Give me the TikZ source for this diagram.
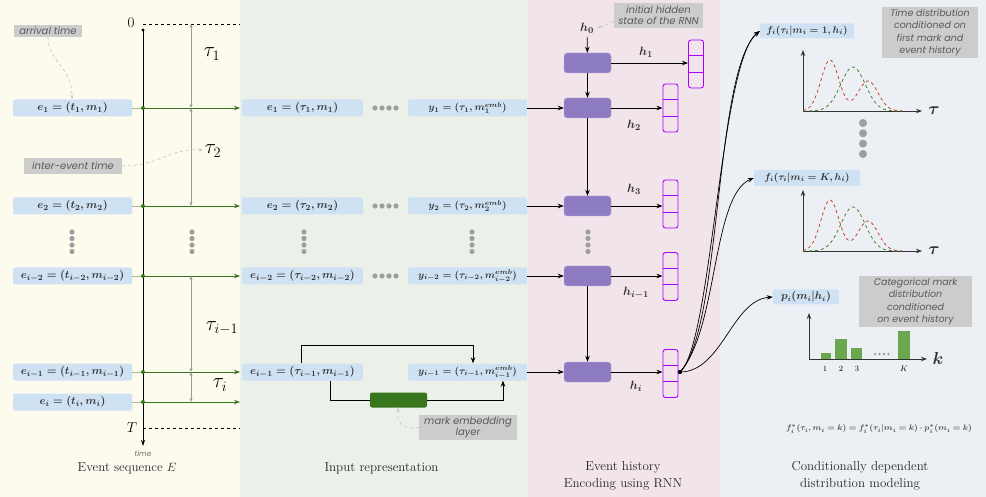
\documentclass[tikz,border=0pt]{standalone}
\usepackage{fontspec}
\usepackage{amsmath,bm}
\usetikzlibrary{arrows.meta,calc}
\newfontfamily\annfont{Poppins}
\definecolor{bgA}{HTML}{FDFAEE}
\definecolor{bgB}{HTML}{EBF0E8}
\definecolor{bgC}{HTML}{F1E4EB}
\definecolor{bgD}{HTML}{ECF0F5}
\definecolor{boxblue}{HTML}{CFE2F3}
\definecolor{txt}{HTML}{333333}
\definecolor{annbg}{HTML}{CCCCCC}
\definecolor{anntxt}{HTML}{595959}
\definecolor{evgreen}{HTML}{38761D}
\definecolor{cellpurple}{HTML}{8E7CC3}
\definecolor{vecpurple}{HTML}{AA00FF}
\definecolor{bargreen}{HTML}{6AA84F}
\definecolor{redc}{HTML}{CC4125}
\definecolor{dotgray}{HTML}{9E9E9E}
\begin{document}
\begin{tikzpicture}[x=1pt,y=-1pt,
  evbox/.style={fill=boxblue, rounded corners=2pt, inner sep=0pt, minimum height=17pt, text=txt, font=\fontsize{11}{13}\selectfont\boldmath},
  ybox/.style={evbox, font=\fontsize{10.2}{12}\selectfont\boldmath},
  fbox/.style={fill=boxblue, rounded corners=2pt, inner sep=0pt, minimum height=15pt, text=txt, font=\fontsize{9.8}{11}\selectfont\boldmath},
  ann/.style={fill=annbg, text=anntxt, font=\annfont\itshape\fontsize{10}{11}\selectfont, inner sep=0pt, align=center},
  cell/.style={fill=cellpurple, draw=cellpurple!60!white, rounded corners=3pt, minimum width=47pt, minimum height=20pt, inner sep=0pt},
  vec/.style={draw=vecpurple, line width=0.9pt, rounded corners=2.5pt, minimum width=15pt, minimum height=48pt, inner sep=0pt},
  arr/.style={-{Stealth[length=6pt,width=4.5pt]}, line width=0.7pt},
  garr/.style={evgreen, line width=0.9pt, -{Stealth[length=6pt,width=4.5pt]}},
  tauarr/.style={black!40, line width=0.6pt, {Stealth[length=4pt,width=3pt]}-{Stealth[length=4pt,width=3pt]}},
  anncurve/.style={black!22, dashed, line width=0.7pt, -{Stealth[length=4pt,width=3pt]}},
  hlab/.style={font=\fontsize{12.5}{13}\selectfont\boldmath, text=txt},
  taulab/.style={font=\fontsize{19.5}{20}\selectfont},
  titlelab/.style={font=\fontsize{13}{17}\selectfont, text=black!85, align=center},
  axisarr/.style={{Stealth[length=6pt,width=4.5pt]}-{Stealth[length=6pt,width=4.5pt]}, line width=0.8pt, black!80}]
\useasboundingbox (0,0) rectangle (986,497);
% backgrounds
\fill[bgA] (0,0) rectangle (240,497);
\fill[bgB] (240,0) rectangle (528,497);
\fill[bgC] (528,0) rectangle (720,497);
\fill[bgD] (720,0) rectangle (986,497);

% ---------------- Panel 1: event sequence
\node[font=\fontsize{15}{15}\selectfont] (zero) at (131,23) {0};
\node[font=\fontsize{15}{15}\selectfont] (Tlab) at (132,428) {$T$};
\coordinate (z0) at (143,24); \coordinate (z1) at (240,24);
\coordinate (t0) at (143,428); \coordinate (t1) at (240,428);
\draw[dashed, line width=0.7pt] (z0) -- (z1);
\draw[dashed, line width=0.7pt] (t0) -- (t1);
\coordinate (ax0) at (143,30); \coordinate (axend) at (143,446);
\draw[line width=0.8pt, -{Stealth[length=6pt,width=4pt]}] (ax0) -- (axend);
\fill (ax0) circle (1.6pt);
\node[font=\annfont\itshape\fontsize{7.5}{8}\selectfont, text=black!55] (timelab) at (143,454) {time};

\node[evbox, minimum width=119pt] (ev1) at (72.5,108) {$\bm{e_1=(t_1,m_1)}$};
\node[evbox, minimum width=119pt] (ev2) at (72.5,206) {$\bm{e_2=(t_2,m_2)}$};
\node[evbox, minimum width=119pt] (ev3) at (72.5,276) {$\bm{e_{i-2}=(t_{i-2},m_{i-2})}$};
\node[evbox, minimum width=119pt] (ev4) at (72.5,372) {$\bm{e_{i-1}=(t_{i-1},m_{i-1})}$};
\node[evbox, minimum width=119pt] (ev5) at (72.5,402) {$\bm{e_{i}=(t_{i},m_{i})}$};

\foreach \n/\yy in {1/108,2/206,3/276,4/372,5/402}{
  \coordinate (a\n) at (143,\yy); \coordinate (b\n) at (240,\yy);
  \draw[black!30, line width=0.6pt] (ev\n.east) -- (a\n);
  \draw[garr] (a\n) -- (b\n);
  \fill[evgreen] (a\n) circle (2pt);
}

% tau arrows
\draw[tauarr] (191,24) -- (191,108);
\draw[tauarr] (191,108) -- (191,206);
\draw[tauarr] (191,276) -- (191,372);
\draw[tauarr] (191,372) -- (191,402);
\node[taulab] (tau1) at (212,54) {$\tau_1$};
\node[taulab] (tau2) at (213,151) {$\tau_2$};
\node[taulab] (tau3) at (222,328) {$\tau_{i-1}$};
\node[taulab] (tau4) at (220,385) {$\tau_i$};

% vertical dots
\foreach \xx in {72,192,304,472,588}{
  \foreach \yy in {232,238.5,245,251.5}{
    \fill[dotgray] (\xx,\yy) circle (2.6pt);
  }
}

% annotations panel 1
\node[ann, minimum width=68pt, minimum height=12pt] (arrt) at (48,31) {arrival time};
\draw[anncurve] (arrt.south) .. controls (48,62) and (72,66) .. (72,99);
\node[ann, minimum width=98pt, minimum height=16pt] (iet) at (73,166) {inter-event time};
\draw[anncurve] (iet.east) .. controls (160,166) and (168,148) .. (203,150);

\node[titlelab] (t1lab) at (127,468) {Event sequence $E$};

% ---------------- Panel 2: input representation
\node[evbox, minimum width=121pt] (p1) at (302.5,108) {$\bm{e_1=(\tau_1,m_1)}$};
\node[evbox, minimum width=121pt] (p2) at (302.5,206) {$\bm{e_2=(\tau_2,m_2)}$};
\node[evbox, minimum width=121pt] (p3) at (302.5,276) {$\bm{e_{i-2}=(\tau_{i-2},m_{i-2})}$};
\node[evbox, minimum width=121pt] (p4) at (302.5,372) {$\bm{e_{i-1}=(\tau_{i-1},m_{i-1})}$};

\node[ybox, minimum width=119pt] (y1) at (467.5,108) {$\bm{y_1=(\tau_1,m_1^{emb})}$};
\node[ybox, minimum width=119pt] (y2) at (467.5,206) {$\bm{y_2=(\tau_2,m_2^{emb})}$};
\node[ybox, minimum width=119pt] (y3) at (467.5,276) {$\bm{y_{i-2}=(\tau_{i-2},m_{i-2}^{emb})}$};
\node[ybox, minimum width=119pt] (y4) at (467.5,372) {$\bm{y_{i-1}=(\tau_{i-1},m_{i-1}^{emb})}$};

\foreach \yy in {108,206,276}{
  \foreach \xx in {375,382,389,396}{
    \fill[dotgray] (\xx,\yy) circle (2.6pt);
  }
}

\coordinate (q1) at (301,345); \coordinate (q2) at (473,345);
\draw[arr] (q1|-p4.north) -- (q1) -- (q2) -- (q2|-y4.north);
\node[fill=evgreen, rounded corners=2pt, minimum width=57pt, minimum height=15pt, inner sep=0pt] (emb) at (398.5,400) {};
\coordinate (u1) at (330,400); \coordinate (u2) at (503,400);
\draw[line width=0.7pt] (u1|-p4.south) -- (u1) -- (emb.west);
\draw[arr] (emb.east) -- (u2) -- (u2|-y4.south);
\node[ann, minimum width=98pt, minimum height=25pt] (mel) at (468,427.5) {mark embedding\\layer};
\draw[anncurve] (mel.west) .. controls (402,430) and (396,422) .. (emb.south);

\node[titlelab] (t2lab) at (381.5,468) {Input representation};

% ---------------- Panel 3: RNN
\node[hlab] (h0) at (587,28) {$\bm{h_0}$};
\node[ann, minimum width=89pt, minimum height=25pt] (init) at (658.5,15.5) {initial hidden\\state of the RNN};
\draw[anncurve] ([yshift=-6pt]init.west) -- (h0.east);

\node[cell] (c1) at (587.5,63) {};
\node[cell] (c2) at (587.5,108) {};
\node[cell] (c3) at (587.5,206) {};
\node[cell] (c4) at (587.5,276) {};
\node[cell] (c5) at (587.5,372) {};
\draw[arr] (h0) -- (c1);
\draw[arr] (c1) -- (c2);
\draw[arr] (c2) -- (c3);
\draw[arr] (c4) -- (c5);
\draw[arr] (y1.east) -- (c2.west);
\draw[arr] (y2.east) -- (c3.west);
\draw[arr] (y3.east) -- (c4.west);
\draw[arr] (y4.east) -- (c5.west);

\node[vec] (v1) at (696,64) {};
\node[vec] (v2) at (670.5,108) {};
\node[vec] (v3) at (670.5,204) {};
\node[vec] (v4) at (670.5,276.5) {};
\node[vec] (v5) at (670.5,373.5) {};
\foreach \v in {v1,v2,v3,v4,v5}{
  \draw[vecpurple, line width=0.9pt] ($(\v.north west)!1/3!(\v.south west)$) -- ($(\v.north east)!1/3!(\v.south east)$);
  \draw[vecpurple, line width=0.9pt] ($(\v.north west)!2/3!(\v.south west)$) -- ($(\v.north east)!2/3!(\v.south east)$);
}
\foreach \c/\v in {c1/v1,c2/v2,c3/v3,c4/v4,c5/v5}{
  \draw[arr] (\c.east) -- (\c.east -| \v.west);
}
\node[hlab] (h1) at (646,52) {$\bm{h_1}$};
\node[hlab] (h2) at (634,125) {$\bm{h_2}$};
\node[hlab] (h3) at (634,189) {$\bm{h_3}$};
\node[hlab] (h4) at (636,293) {$\bm{h_{i-1}}$};
\node[hlab] (h5) at (636,386) {$\bm{h_i}$};

\node[titlelab] (t3lab) at (623,476) {Event history\\Encoding using RNN};

% ---------------- Panel 4: distributions
\coordinate (hd) at (680,372);
\fill (hd) circle (2.2pt);
\node[fbox, minimum width=94pt] (f1) at (807,31) {$\bm{f_i(\tau_i|m_i=1,h_i)}$};
\node[fbox, minimum width=106pt, minimum height=16pt] (fK) at (807,178) {$\bm{f_i(\tau_i|m_i=K,h_i)}$};
\node[fbox, minimum width=66pt, font=\fontsize{10.5}{12}\selectfont\boldmath] (pb) at (806,297) {$\bm{p_i(m_i|h_i)}$};
\draw[arr] (hd) .. controls (722,330) and (714,70) .. (f1.west);
\draw[arr] (hd) .. controls (712,345) and (720,62) .. (f1.west);
\draw[arr] (hd) .. controls (718,330) and (712,195) .. (fK.west);
\draw[arr] (hd) .. controls (722,372) and (732,300) .. (pb.west);

\foreach \sh in {0,140}{
\begin{scope}[shift={(0,\sh)}]
  \draw[axisarr] (803,50) |- (922,111);
  \draw[redc, dashed, line width=0.8pt] plot[domain=803:905, samples=90, smooth] (\x, {111-51*exp(-(\x-830)*(\x-830)/162)-30*exp(-(\x-868)*(\x-868)/200)});
  \draw[evgreen!80!bargreen, dashed, line width=0.8pt] plot[domain=803:900, samples=90, smooth] (\x, {111-44*exp(-(\x-853)*(\x-853)/300)});
  \node[font=\fontsize{19}{19}\selectfont, text=txt] at (934,111) {$\bm{\tau}$};
\end{scope}
}
\foreach \yy in {123,133.3,143.6,154}{
  \fill[dotgray] (863,\yy) circle (4pt);
}
\node[ann, minimum width=96pt, minimum height=51pt, font=\annfont\itshape\fontsize{9.5}{12.5}\selectfont] (tdist) at (930,32.5) {Time distribution\\conditioned on\\first mark and\\event history};
\node[ann, minimum width=113pt, minimum height=51pt, font=\annfont\itshape\fontsize{9.5}{12.5}\selectfont] (cdist) at (915.5,301.5) {Categorical mark\\distribution\\conditioned\\on event history};

\draw[axisarr] (809,313) |- (927,359);
\node[font=\fontsize{17}{17}\selectfont, text=txt] (klab) at (938,358) {$\bm{k}$};
\fill[bargreen] (821,359) rectangle (831,353);
\fill[bargreen] (835,359) rectangle (847,339);
\fill[bargreen] (851,359) rectangle (862,348);
\fill[bargreen] (898,359) rectangle (910,331);
\foreach \xx in {875,879.5,884,888.5}{ \fill[dotgray] (\xx,354) circle (1.4pt); }
\node[font=\fontsize{8}{9}\selectfont] at (825,369) {1};
\node[font=\fontsize{8}{9}\selectfont] at (841,369) {2};
\node[font=\fontsize{8}{9}\selectfont] at (857,369) {3};
\node[font=\fontsize{8}{9}\selectfont] at (904,369) {$K$};

\node[font=\fontsize{8.3}{10}\selectfont, text=black!70] (formula) at (879,429) {$\bm{f_i^*(\tau_i,m_i=k)=f_i^*(\tau_i|m_i=k)\cdot p_i^*(m_i=k)}$};

\node[titlelab] (t4lab) at (860,476) {Conditionally dependent\\distribution modeling};
\end{tikzpicture}
\end{document}
